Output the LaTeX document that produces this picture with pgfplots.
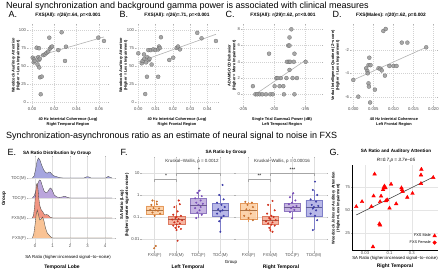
\documentclass[border=0pt]{standalone}
\usepackage{fontspec}
\setmainfont{Liberation Sans}
\usepackage{pgfplots}
\pgfplotsset{compat=1.18}
\newcommand\fs[2]{\fontsize{#1}{#2}\selectfont}
\definecolor{ptgray}{HTML}{9E9E9E}
\definecolor{rFF}{HTML}{F8BC8A}
\definecolor{rFM}{HTML}{F08A74}
\definecolor{rTF}{HTML}{B49CD8}
\definecolor{rTM}{HTML}{9C9CDC}
\definecolor{bFFf}{HTML}{FCCB9C}\definecolor{bFFd}{HTML}{E59A5C}\definecolor{pFF}{HTML}{C8702E}
\definecolor{bFMf}{HTML}{F5A891}\definecolor{bFMd}{HTML}{DE7A61}\definecolor{pFM}{HTML}{D0311E}
\definecolor{bTFf}{HTML}{BCA8DC}\definecolor{bTFd}{HTML}{8F78C0}\definecolor{pTF}{HTML}{7A4FB8}
\definecolor{bTMf}{HTML}{ABABE4}\definecolor{bTMd}{HTML}{7E7EC8}\definecolor{pTM}{HTML}{3C3CA8}
\pgfplotsset{
 base/.style={scale only axis, anchor=south west, scaled ticks=false,
   tick label style={font=\fs{4.2}{5}, text=black!70, inner sep=0.6pt},
   major tick length=1.2pt, tick align=outside, tick style={gray!60, line width=0.3pt},
   grid=major, major grid style={gray!30, line width=0.3pt},
   axis line style={draw=none}},
 top/.style={base, major grid style={gray!35, line width=0.3pt, dash pattern=on 1pt off 1pt}},
 gpts/.style={only marks, mark=*, mark size=2pt, mark options={fill=ptgray, draw=gray!75!black, line width=0.2pt, fill opacity=0.9}},
 fitl/.style={gray!60, line width=0.6pt},
}
% box: left, centre, right, lower whisker, Q1, median, Q3, upper whisker, colour prefix
\newcommand\bxp[9]{%
 \addplot[draw=#9d, line width=0.4pt] coordinates {(#2,#4) (#2,#5)};
 \addplot[draw=#9d, line width=0.4pt] coordinates {(#2,#7) (#2,#8)};
 \addplot[fill=#9f, draw=#9d, fill opacity=0.85, line width=0.4pt] coordinates {(#1,#5) (#3,#5) (#3,#7) (#1,#7) (#1,#5)};
 \addplot[draw=#9d!75!black, line width=0.6pt] coordinates {(#1,#6) (#3,#6)};
}
\begin{document}
\begin{tikzpicture}
\path[use as bounding box] (0pt,0pt) rectangle (440pt,272pt);
% ---------------- titles
\node[anchor=west, font=\fs{9}{10}] at (2.5pt,265.5pt) {Neural synchronization and background gamma power is associated with clinical measures};
\node[anchor=west, font=\fs{9}{10}] at (2.5pt,135.5pt) {Synchronization-asynchronous ratio as an estimate of neural signal to noise in FXS};
\foreach \l/\x/\y in {A./5/258,B./116/258,C./222/258,D./329/258,E./4/120,F./117/120,G./326/120}
  \node[anchor=west, font=\fs{9}{10}] at (\x pt,\y pt) {\l};
% ---------------- panel A
\begin{axis}[top, at={(28pt,166pt)}, width=80pt, height=81pt,
 xmin=-0.0036, xmax=0.0682, ymin=-5.6, ymax=106.9,
 xtick={0,0.02,0.04,0.06}, xticklabels={0.00,0.02,0.04,0.06},
 ytick={0,25,50,75,100}, yticklabels={0,25,50,75,100}]
\addplot[fitl] coordinates {(0.0005,61.6) (0.0646,90.3)};
\addplot[gpts] table {
x y
0.0006 61.5
0.0018 59.3
0.0015 55
0.0025 57
0.0042 75.4
0.0063 74.6
0.0050 52
0.0055 62
0.0060 58
0.0065 48
0.0070 60
0.0072 34.3
0.0087 35.2
0.0078 10.7
0.0100 65
0.0115 66
0.0130 68
0.0145 70
0.0155 89.3
0.0160 74
0.0170 76
0.0180 77
0.0236 72
0.0266 96.8
0.0296 57
0.0305 76.8
0.0595 89.3
0.0646 84.7
};
\end{axis}
% ---------------- panel B
\begin{axis}[top, at={(136pt,166pt)}, width=82pt, height=81pt,
 xmin=-0.00133, xmax=0.0461, ymin=-5.6, ymax=106.9,
 xtick={0,0.01,0.02,0.03,0.04}, xticklabels={0.00,0.01,0.02,0.03,0.04},
 ytick={0,25,50,75,100}, yticklabels={0,25,50,75,100}]
\addplot[fitl] coordinates {(0,55.3) (0.0449,94)};
\addplot[gpts] table {
x y
0.0000 67.6
0.0020 53.7
0.0025 57
0.0033 66
0.0035 60
0.0040 11
0.0045 55
0.0050 35
0.0052 62
0.0058 72
0.0060 58
0.0065 60
0.0072 72
0.0077 52
0.0087 73
0.0100 72
0.0115 35
0.0115 73
0.0120 77
0.0125 75
0.0131 89.9
0.0179 58.3
0.0202 61.5
0.0222 75
0.0230 77
0.0241 73
0.0341 96
0.0366 88.4
0.0449 84.7
};
\end{axis}
% ---------------- panel C
\begin{axis}[top, at={(242pt,166pt)}, width=80pt, height=81pt,
 xmin=-205.16, xmax=-192.26, ymin=-1.44, ymax=8.53,
 xtick={-205,-200,-195}, xticklabels={-205,-200,-195},
 ytick={0,2,4,6,8}, yticklabels={0,2,4,6,8}]
\addplot[fitl] coordinates {(-203.0,0) (-194.9,4.2)};
\addplot[gpts] table {
x y
-203.4 1
-203.0 0
-202.7 0
-202.3 0
-201.9 0
-201.3 0
-200.6 0
-200.2 0
-200.8 5
-199.9 1
-199.6 2
-199.4 2
-198.9 2
-199.1 1
-198.5 1
-198.4 0
-198.0 2
-197.9 4
-197.7 6
-197.5 6
-197.5 7
-197.2 8
-197.6 4
-197.4 4
-197.5 3
-196.7 5
-197.0 2
-196.7 0
-196.3 2
-196.8 4
-194.9 4
};
\end{axis}
% ---------------- panel D
\begin{axis}[top, at={(351pt,166pt)}, width=86pt, height=81pt,
 xmin=-0.000575, xmax=0.0209, ymin=-6.8, ymax=0.142,
 xtick={0,0.005,0.01,0.015,0.02}, xticklabels={0.000,0.005,0.010,0.015,0.020},
 ytick={-6,-4,-2}, yticklabels={-6,-4,-2}]
\addplot[fitl] coordinates {(0,-4.57) (0.0182,-1.77)};
\addplot[gpts] table {
x y
0.0000 -4.57
0.00125 -6.0
0.0032 -3.57
0.0035 -3.8
0.0038 -3.3
0.0043 -3.3
0.0040 -2.66
0.0036 -4.0
0.0038 -4.86
0.0039 -5.14
0.0042 -6.5
0.0054 -5.4
0.0063 -3.57
0.0068 -3.6
0.0071 -3.75
0.0075 -0.37
0.0081 -0.2
0.0079 -4.2
0.0090 -3.37
0.0100 -3.37
0.0108 -3.37
0.0121 -1.37
0.0135 -1.37
0.0182 -1.77
};
\end{axis}
% top-row texts
\foreach \x/\t in {68/{FXS(All): r(26)=.64, p=<0.001},177/{FXS(All): r(26)=.71, p=<0.001},283/{FXS(All): r(29)=.62, p=<0.001},391/{FXS(Males): r(20)=.62, p=0.002}}
  \node[font=\bfseries\fs{4.8}{5.5}] at (\x pt,257pt) {\t};
\node[font=\bfseries\fs{3.9}{4.6}, align=center] at (68pt,150pt) {40 Hz Intertrial Coherence (Log)\\Right Temporal Region};
\node[font=\bfseries\fs{3.9}{4.6}, align=center] at (177pt,150pt) {40 Hz Intertrial Coherence (Log)\\Right Frontal Region};
\node[font=\bfseries\fs{3.9}{4.6}, align=center] at (282pt,150pt) {Single Trial Gamma1 Power (dB)\\Left Temporal Region};
\node[font=\bfseries\fs{3.9}{4.6}, align=center] at (394pt,150pt) {40 Hz Intertrial Coherence\\Left Frontal Region};
\node[rotate=90, font=\bfseries\fs{3.9}{4.6}, align=center] at (16pt,206.5pt) {Woodcock \textit{Auditory Attention}\\(Higher = Less Impairment)};
\node[rotate=90, font=\bfseries\fs{3.9}{4.6}, align=center] at (123.5pt,206.5pt) {Woodcock \textit{Auditory Attention}\\(Higher = Less Impairment)};
\node[rotate=90, font=\bfseries\fs{3.9}{4.6}, align=center] at (232pt,206.5pt) {ADAMS OCD Behavior\\(Higher = More Impairment)};
\node[rotate=90, font=\bfseries\fs{3.9}{4.6}, align=center] at (335.5pt,206.5pt) {Verbal Intelligence Quotient (Z−score)\\(Higher = Less Impairment)};
% ---------------- panel E
\begin{axis}[base, at={(28pt,29pt)}, width=87pt, height=86pt,
 xmin=-0.4, xmax=4.57, ymin=0.75, ymax=5.05,
 xtick={0,1,2,3,4}, xticklabels={0,1,2,3,4},
 ytick={1,2,3,4}, yticklabels={FXS(F),FXS(M),TDC(F),TDC(M)},
 major grid style={gray!25, line width=0.3pt}]
\addplot[fill=rTM, fill opacity=0.9, draw=black!70, line width=0.35pt] coordinates {(-0.15,4) (-0.05,4.1) (0.05,4.5) (0.12,4.85) (0.2,5.0) (0.28,4.9) (0.4,4.6) (0.5,4.4) (0.6,4.28) (0.7,4.24) (0.8,4.3) (0.88,4.28) (1.0,4.15) (1.1,4.1) (1.25,4.06) (1.4,4.02) (1.6,4) (2.8,4) (2.95,4.06) (3.05,4.06) (3.2,4) (4.05,4) (4.18,4.08) (4.3,4.03) (4.4,4)};
\addplot[fill=rTF, fill opacity=0.9, draw=black!70, line width=0.35pt] coordinates {(-0.15,3) (-0.05,3.1) (0.05,3.35) (0.15,3.7) (0.25,3.9) (0.32,3.88) (0.42,3.6) (0.52,3.35) (0.62,3.27) (0.72,3.3) (0.82,3.45) (0.9,3.5) (0.98,3.4) (1.1,3.15) (1.25,3.05) (1.4,3.03) (1.55,3.05) (1.7,3.09) (1.85,3.03) (2.0,3) (4.4,3)};
\addplot[fill=rFM, fill opacity=0.9, draw=black!70, line width=0.35pt] coordinates {(-0.15,2) (-0.08,2.15) (-0.02,2.6) (0.03,3.2) (0.08,3.65) (0.12,3.73) (0.17,3.45) (0.22,2.95) (0.28,2.6) (0.35,2.42) (0.45,2.3) (0.55,2.15) (0.65,2.17) (0.75,2.15) (0.85,2.05) (1.0,2) (4.4,2)};
\addplot[fill=rFF, fill opacity=0.9, draw=black!70, line width=0.35pt] coordinates {(-0.15,1) (-0.07,1.2) (0.0,1.65) (0.07,2.2) (0.13,2.4) (0.2,2.15) (0.27,1.9) (0.35,1.95) (0.43,2.05) (0.5,1.9) (0.6,1.5) (0.7,1.25) (0.8,1.15) (0.9,1.05) (1.0,1) (4.4,1)};
\end{axis}
\node[font=\bfseries\fs{4.6}{5.5}] at (57pt,119pt) {SA Ratio Distribution by Group};
\node[rotate=90, font=\bfseries\fs{4.6}{5.5}] at (4pt,73pt) {Group};
\node[font=\fs{4.3}{5}] at (68pt,15pt) {SA Ratio (higher=increased signal−to−noise)};
\node[font=\bfseries\fs{5}{6}] at (62pt,5pt) {Temporal Lobe};
% ---------------- panel F left
\begin{axis}[base, at={(141.5pt,20.5pt)}, width=92pt, height=93.5pt,
 xmin=0.4, xmax=4.6, ymin=-2.58, ymax=1.69,
 xtick={1,2,3,4}, xticklabels={FXS(F),FXS(M),TDC(F),TDC(M)},
 ytick={-2,-1,0,1}, yticklabels={0.01,0.1,1,10},
 major grid style={gray!25, line width=0.3pt}]
\bxp{0.625}{1}{1.375}{-0.99}{-0.87}{-0.68}{-0.50}{-0.23}{bFF}
\bxp{1.625}{2}{2.375}{-1.6}{-1.34}{-1.11}{-0.96}{-0.46}{bFM}
\bxp{2.625}{3}{3.375}{-1.06}{-0.84}{-0.46}{-0.15}{0.23}{bTF}
\bxp{3.625}{4}{4.375}{-1.68}{-0.99}{-0.68}{-0.38}{0.0}{bTM}
\addplot[only marks, mark=*, mark size=0.8pt, color=pFF] coordinates {(0.85,-0.45) (1.1,-0.42) (0.95,-0.6) (1.2,-0.62) (0.8,-0.68) (1.05,-0.7) (1.15,-0.72) (0.9,-0.8) (1.25,-0.85) (1.0,-0.95) (1.1,-0.3) (0.9,-0.25) (1.05,-2.33) (0.98,-2.43)};
\addplot[only marks, mark=*, mark size=0.8pt, color=pFM] coordinates {(2.1,-0.25) (2.15,-0.42) (1.9,-0.55) (2.05,-0.75) (1.85,-0.9) (2.2,-0.95) (2.0,-1.0) (1.95,-1.05) (2.1,-1.1) (1.8,-1.12) (2.25,-1.15) (2.05,-1.2) (1.9,-1.25) (2.15,-1.3) (2.0,-1.35) (1.85,-1.4) (2.1,-1.45) (1.95,-1.5) (2.2,-1.55) (2.0,-1.6) (2.05,-2.09)};
\addplot[only marks, mark=*, mark size=0.8pt, color=pTF] coordinates {(3.05,0.2) (2.95,0.1) (3.15,-0.05) (2.85,-0.15) (3.1,-0.25) (2.9,-0.35) (3.2,-0.4) (3.0,-0.45) (3.1,-0.55) (2.85,-0.6) (3.05,-0.7) (2.95,-0.8) (3.15,-0.9) (2.9,-1.05)};
\addplot[only marks, mark=*, mark size=0.8pt, color=pTM] coordinates {(4.1,0.46) (3.95,0.0) (4.15,-0.2) (3.85,-0.35) (4.05,-0.45) (4.2,-0.55) (3.9,-0.65) (4.1,-0.7) (4.0,-0.75) (3.85,-0.85) (4.15,-0.95) (4.05,-1.05) (3.95,-1.2) (4.0,-1.68)};
\addplot[gray!70, line width=0.4pt] coordinates {(1,0.61) (1,0.72) (2,0.72) (2,0.61)};
\addplot[gray!70, line width=0.4pt] coordinates {(2,0.88) (2,0.99) (4,0.99) (4,0.88)};
\end{axis}
% ---------------- panel F right
\begin{axis}[base, at={(235.5pt,20.5pt)}, width=91.5pt, height=93.5pt,
 xmin=0.4, xmax=4.6, ymin=-2.58, ymax=1.69,
 xtick={1,2,3,4}, xticklabels={FXS(F),FXS(M),TDC(F),TDC(M)},
 ytick={-2,-1,0,1}, yticklabels={},
 major grid style={gray!25, line width=0.3pt}]
\bxp{0.625}{1}{1.375}{-1.22}{-1.11}{-0.68}{-0.38}{-0.31}{bFF}
\bxp{1.625}{2}{2.375}{-1.68}{-1.32}{-1.14}{-0.96}{-0.41}{bFM}
\bxp{2.625}{3}{3.375}{-1.06}{-0.72}{-0.56}{-0.38}{0.08}{bTF}
\bxp{3.625}{4}{4.375}{-1.6}{-0.96}{-0.56}{-0.23}{0.23}{bTM}
\addplot[only marks, mark=*, mark size=0.8pt, color=pFF] coordinates {(0.85,-0.31) (1.15,-0.35) (0.95,-0.45) (1.2,-0.55) (0.9,-0.65) (1.05,-0.7) (1.1,-0.85) (0.8,-0.95) (1.0,-1.05) (1.2,-1.15)};
\addplot[only marks, mark=*, mark size=0.8pt, color=pFM] coordinates {(2.1,-0.27) (1.9,-0.45) (2.2,-0.7) (1.85,-0.85) (2.05,-0.95) (2.15,-1.0) (1.95,-1.05) (2.0,-1.1) (2.25,-1.15) (1.8,-1.2) (2.1,-1.25) (1.9,-1.3) (2.05,-1.35) (2.2,-1.4) (1.95,-1.5) (2.0,-1.6) (2.1,-1.68)};
\addplot[only marks, mark=*, mark size=0.8pt, color=pTF] coordinates {(3.05,0.08) (2.9,-0.1) (3.15,-0.25) (3.0,-0.35) (2.85,-0.42) (3.2,-0.5) (3.05,-0.55) (2.95,-0.6) (3.1,-0.68) (2.9,-0.78) (3.0,-1.06)};
\addplot[only marks, mark=*, mark size=0.8pt, color=pTM] coordinates {(4.05,0.61) (3.95,0.23) (4.15,0.0) (3.85,-0.2) (4.1,-0.3) (3.9,-0.45) (4.2,-0.5) (4.0,-0.55) (3.95,-0.62) (4.1,-0.7) (3.85,-0.85) (4.05,-0.95) (4.15,-1.15) (3.95,-1.6)};
\addplot[gray!70, line width=0.4pt] coordinates {(1,0.61) (1,0.72) (2,0.72) (2,0.61)};
\addplot[gray!70, line width=0.4pt] coordinates {(2,0.88) (2,0.99) (4,0.99) (4,0.88)};
\end{axis}
\node[font=\bfseries\fs{4.6}{5.5}] at (226pt,120pt) {SA Ratio by Group};
\node[rotate=90, font=\bfseries\fs{4.2}{5}, align=center] at (124.5pt,67pt) {SA Ratio (Log)\\(higher=greater signal-to-noise)};
\node[font=\fs{4.5}{5}, text=black!80] at (192pt,110.3pt) {Kruskal−Wallis, p = 0.0012};
\node[font=\fs{4.5}{5}, text=black!80] at (282pt,110.3pt) {Kruskal−Wallis, p = 0.00016};
\node[font=\fs{5}{5}] at (166pt,96pt) {*};
\node[font=\fs{5}{5}] at (199pt,102.5pt) {*};
\node[font=\fs{5}{5}] at (259.5pt,96pt) {**};
\node[font=\fs{5}{5}] at (292.5pt,102.5pt) {***};
\node[font=\fs{4.4}{5}] at (231pt,10pt) {Group};
\node[font=\bfseries\fs{5}{6}] at (188pt,4.5pt) {Left Temporal};
\node[font=\bfseries\fs{5}{6}] at (281pt,4.5pt) {Right Temporal};
% ---------------- panel G
\begin{axis}[base, at={(352pt,22pt)}, width=86pt, height=85pt,
 xmode=log, xmin=0.0158, xmax=1.087, ymin=6.5, ymax=98.9,
 xtick={0.03,0.1,0.3}, xticklabels={0.03,0.1,0.3},
 ytick={25,50,75}, yticklabels={25,50,75},
 axis x line*=bottom, axis y line*=left, axis line style={draw=black, line width=0.4pt},
 major grid style={gray!20, line width=0.3pt},
 legend plot pos=right, legend cell align=right,
 legend style={at={(0.99,0.03)}, anchor=south east, draw=none, fill=none, font=\fs{3.8}{4.5}, row sep=-1.5pt, inner sep=0.5pt}]
\addplot[black!75, line width=0.6pt, forget plot] coordinates {(0.0195,44.6) (0.836,85.5)};
\addplot[only marks, mark=triangle*, mark size=2.1pt, mark options={fill=red, draw=red}] table {
x y
0.0195 53.6
0.0259 59
0.041 53.6
0.0457 65.2
0.0443 10
0.048 89
0.061 35
0.063 33.5
0.063 59
0.066 65
0.073 72
0.075 74
0.078 76
0.082 74
0.084 60
0.089 61
0.1 52
0.108 78
0.139 56.7
0.18 74
0.185 72
0.19 70
0.24 63.7
0.31 68
0.47 78.7
0.47 88
0.48 94.2
0.86 85.3
};
\addlegendentry{FXS Male}
\addlegendimage{only marks, mark=*, mark size=1.8pt, mark options={fill=red, draw=red}}
\addlegendentry{FXS Female}
\end{axis}
\node[font=\bfseries\fs{4.6}{5.5}] at (396pt,120.3pt) {SA Ratio and Auditory Attention};
\node[font=\itshape\fs{4.6}{5.5}] at (396pt,112pt) {R=0.7,p = 3.7e−05};
\node[rotate=90, font=\bfseries\fs{3.9}{4.6}, align=center] at (336pt,64pt) {Woodcock \textit{Johnson} Auditory Attention\\(Higher=Less Impairment)};
\node[font=\fs{4.3}{5}] at (395pt,13.7pt) {SA Ratio (higher=increased signal−to−noise)};
\node[font=\bfseries\fs{5}{6}] at (395pt,5.3pt) {Right Temporal};
\end{tikzpicture}
\end{document}
